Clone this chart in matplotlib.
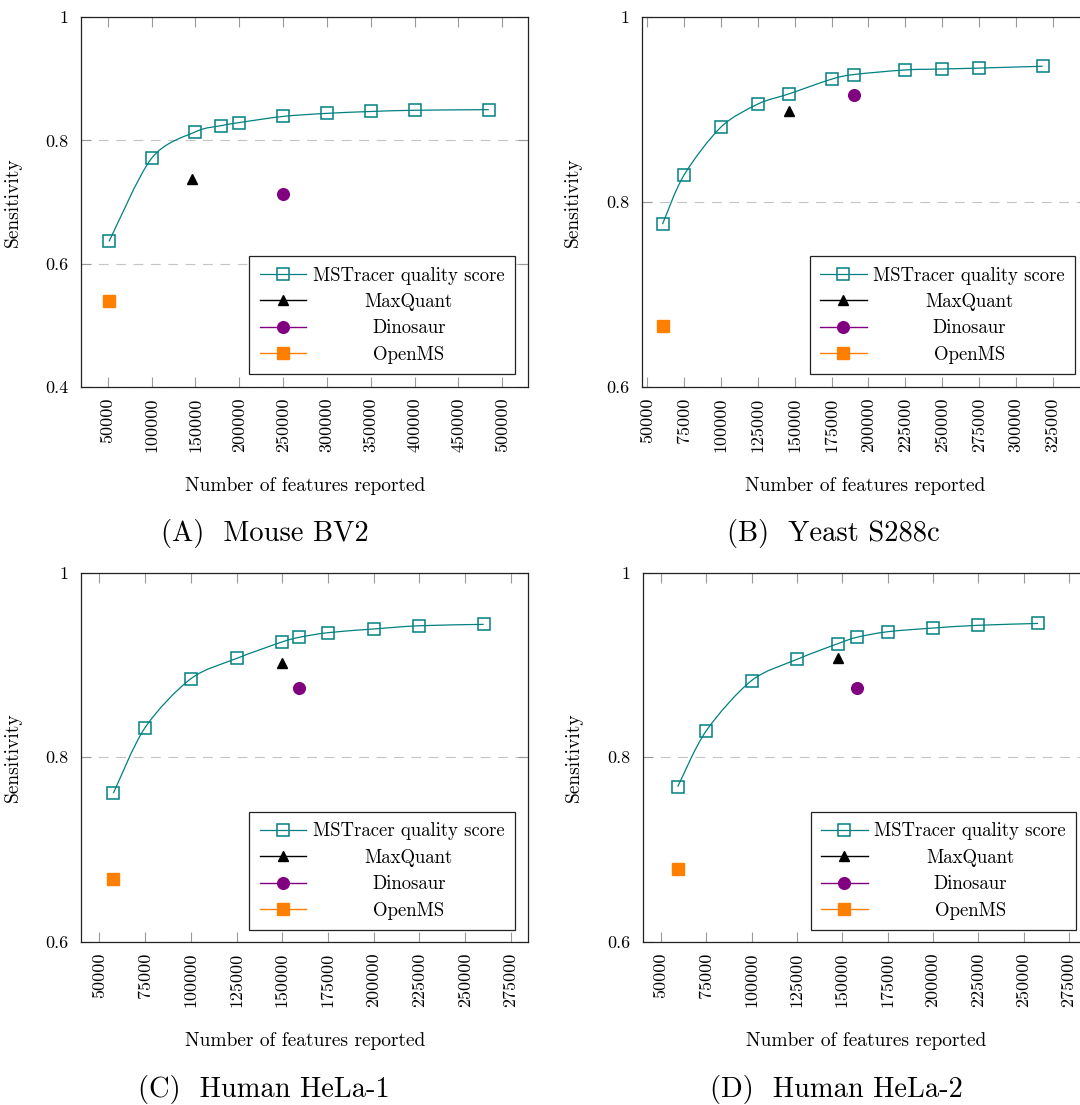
import numpy as np
import matplotlib
matplotlib.use('Agg')
import matplotlib.pyplot as plt
from matplotlib.path import Path
from matplotlib.patches import PathPatch
from matplotlib.lines import Line2D

plt.rcParams['font.family'] = ['cmr10', 'DejaVu Serif']
plt.rcParams['axes.formatter.use_mathtext'] = True
plt.rcParams['lines.scale_dashes'] = False

# (A) Mouse BV2
mouse_x = [51500, 100000, 150000, 179300, 200000, 250000, 300000, 350000, 400000, 484700]
mouse_y = [0.636, 0.771, 0.814, 0.824, 0.829, 0.839, 0.844, 0.847, 0.849, 0.850]
mouse_maxquant = [146200, 0.737]
mouse_dinosaur = [250000, 0.713]
mouse_openms = [51500, 0.5395]

# (B) Yeast S288c
yeast_x = [60500, 75000, 100000, 125000, 146000, 175000, 190000, 225000, 250000, 275000, 318000]
yeast_y = [0.776, 0.829, 0.881, 0.906, 0.917, 0.933, 0.938, 0.943, 0.944, 0.945, 0.947]
yeast_maxquant = [146000, 0.898]
yeast_dinosaur = [190000, 0.916]
yeast_openms = [60500, 0.666]

# (C) Human HeLa-1
hela1_x = [57700, 75000, 100000, 125000, 150000, 159400, 175000, 200000, 225000, 260100]
hela1_y = [0.761, 0.832, 0.885, 0.907, 0.925, 0.930, 0.935, 0.939, 0.9425, 0.944]
hela1_maxquant = [150000, 0.902]
hela1_dinosaur = [159400, 0.875]
hela1_openms = [57700, 0.668]

# (D) Human HeLa-2
hela2_x = [59300, 75000, 100000, 125000, 147500, 158100, 175000, 200000, 225000, 258000]
hela2_y = [0.768, 0.8285, 0.883, 0.906, 0.923, 0.930, 0.936, 0.940, 0.943, 0.945]
hela2_maxquant = [147500, 0.908]
hela2_dinosaur = [158100, 0.875]
hela2_openms = [59300, 0.679]

xticks_a = [50000, 100000, 150000, 200000, 250000, 300000, 350000, 400000, 450000, 500000]
xticks_b = [50000, 75000, 100000, 125000, 150000, 175000, 200000, 225000, 250000, 275000, 300000, 325000]
xticks_cd = [50000, 75000, 100000, 125000, 150000, 175000, 200000, 225000, 250000, 275000]
yticks_a = [0.4, 0.6, 0.8, 1.0]
ylabels_a = ['0.4', '0.6', '0.8', '1']
yticks_bcd = [0.6, 0.8, 1.0]
ylabels_bcd = ['0.6', '0.8', '1']

captions = ['(A)  Mouse BV2', '(B)  Yeast S288c', '(C)  Human HeLa-1', '(D)  Human HeLa-2']
names = ['MSTracer quality score', 'MaxQuant', 'Dinosaur', 'OpenMS']

TEAL = '#008080'
PURPLE = '#800080'
ORANGE = '#ff8000'

W, H = 1080, 1105
fig = plt.figure(figsize=(W / 100, H / 100), dpi=100)


def px_axes(x0, y0, x1, y1):
    return fig.add_axes([x0 / W, 1 - y1 / H, (x1 - x0) / W, (y1 - y0) / H])


def smooth_curve(ax, xs, ys, k=0.153):
    # pgfplots-like "smooth" curve, control points built in screen space
    pts = ax.transData.transform(np.column_stack([xs, ys]))
    n = len(pts)
    verts = [pts[0]]
    codes = [Path.MOVETO]
    for i in range(n - 1):
        p0 = pts[max(i - 1, 0)]
        p1 = pts[i]
        p2 = pts[i + 1]
        p3 = pts[min(i + 2, n - 1)]
        verts += [p1 + (p2 - p0) * k, p2 - (p3 - p1) * k, p2]
        codes += [Path.CURVE4] * 3
    verts = ax.transData.inverted().transform(np.array(verts))
    ax.add_patch(PathPatch(Path(verts, codes), fill=False, edgecolor=TEAL, lw=0.9, zorder=3))


def panel(ax, xs, ys, mq, dino, om, xlim, ylim, xticks, yticks, ylabels, leg_bottom):
    ax.set_xlim(xlim)
    ax.set_ylim(ylim)
    smooth_curve(ax, xs, ys)
    ax.plot(xs, ys, ls='none', marker='s', ms=8.6, mfc='none', mec=TEAL, mew=1.1, zorder=4)
    h_mq, = ax.plot([mq[0]], [mq[1]], color='black', marker='^', ms=7, lw=1, zorder=4)
    h_di, = ax.plot([dino[0]], [dino[1]], color=PURPLE, marker='o', ms=8.4, lw=1, zorder=4)
    h_om, = ax.plot([om[0]], [om[1]], color=ORANGE, marker='s', ms=8.4, lw=1, zorder=4)
    h_ms = Line2D([], [], color=TEAL, lw=0.9, marker='s', ms=8.6, mfc='none', mew=1.1)

    ax.set_xticks(xticks)
    ax.set_xticklabels([str(v) for v in xticks], rotation=90)
    ax.set_yticks(yticks)
    ax.set_yticklabels(ylabels)
    ax.tick_params(axis='both', direction='in', length=7, width=0.8, color='#999999',
                   top=True, right=True, labelsize=13)
    ax.tick_params(axis='x', pad=8)
    ax.tick_params(axis='y', pad=9)
    ax.grid(axis='y', color='#c4c4c4', lw=0.8, dashes=(7, 5.5))
    ax.set_axisbelow(True)
    for s in ax.spines.values():
        s.set_linewidth(0.9)
        s.set_color('#222222')

    ax.set_xlabel('Number of features reported', fontsize=14)
    ax.xaxis.set_label_coords(0.5, -0.245)
    ax.set_ylabel('Sensitivity', fontsize=14)
    ax.yaxis.set_label_coords(-0.133, 0.5)

    leg = ax.legend([h_ms, h_mq, h_di, h_om], names, loc='lower right',
                    bbox_to_anchor=(0.97, leg_bottom), borderaxespad=0,
                    fontsize=13.5, fancybox=False, framealpha=1, edgecolor='#222222',
                    borderpad=0.55, handlelength=2.5, handletextpad=0.35, labelspacing=0.45)
    leg.get_frame().set_linewidth(0.9)
    leg.set_zorder(10)
    return leg


ax_a = px_axes(81, 17.3, 528.3, 386.7)
ax_b = px_axes(641.7, 17.3, 1088.7, 386.7)
ax_c = px_axes(81, 572.7, 528.3, 941.7)
ax_d = px_axes(642.7, 572.7, 1089.7, 941.7)

legends = [
    panel(ax_a, mouse_x, mouse_y, mouse_maxquant, mouse_dinosaur, mouse_openms,
          (19500, 529700), (0.4, 1.0), xticks_a, yticks_a, ylabels_a, 0.034),
    panel(ax_b, yeast_x, yeast_y, yeast_maxquant, yeast_dinosaur, yeast_openms,
          (46400, 349200), (0.6, 1.0), xticks_b, yticks_bcd, ylabels_bcd, 0.034),
    panel(ax_c, hela1_x, hela1_y, hela1_maxquant, hela1_dinosaur, hela1_openms,
          (40000, 284500), (0.6, 1.0), xticks_cd, yticks_bcd, ylabels_bcd, 0.032),
    panel(ax_d, hela2_x, hela2_y, hela2_maxquant, hela2_dinosaur, hela2_openms,
          (40000, 286500), (0.6, 1.0), xticks_cd, yticks_bcd, ylabels_bcd, 0.032),
]

# captions under each subfigure
fig.text(265 / W, 1 - 533 / H, captions[0], fontsize=20.5, ha='center', va='center')
fig.text(833 / W, 1 - 533 / H, captions[1], fontsize=20.5, ha='center', va='center')
fig.text(264 / W, 1 - 1089 / H, captions[2], fontsize=20.5, ha='center', va='center')
fig.text(836 / W, 1 - 1089 / H, captions[3], fontsize=20.5, ha='center', va='center')

# centre the legend entries in their column, like pgfplots does
fig.canvas.draw()
renderer = fig.canvas.get_renderer()
for leg in legends:
    texts = leg.get_texts()
    widths = [t.get_window_extent(renderer).width for t in texts]
    wmax = max(widths)
    for t, w in zip(texts, widths):
        t.set_x((wmax - w) / 2)

fig.savefig('out.png', dpi=100)
